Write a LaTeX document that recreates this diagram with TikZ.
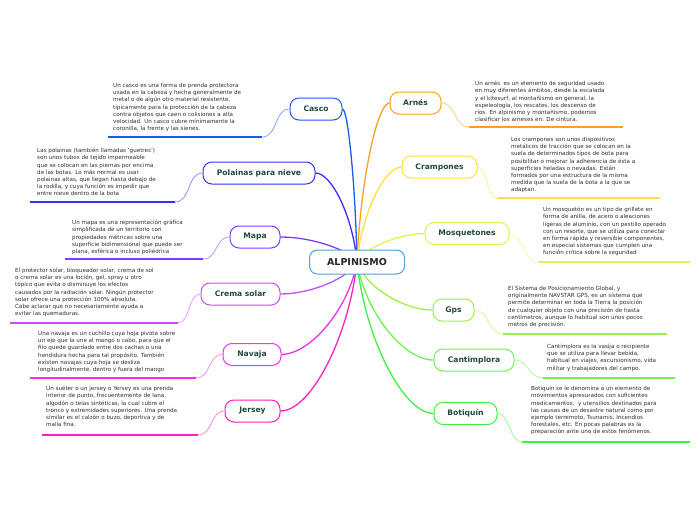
\documentclass[tikz,border=0pt]{standalone}
\usepackage{fontspec}
\setmainfont{DejaVu Sans}
\usetikzlibrary{backgrounds}
\definecolor{cCasco}{HTML}{1F5AF0}
\definecolor{cPolainas}{HTML}{3535E6}
\definecolor{cMapa}{HTML}{7F3CFF}
\definecolor{cCrema}{HTML}{C050FF}
\definecolor{cNavaja}{HTML}{F030F0}
\definecolor{cJersey}{HTML}{FF20C0}
\definecolor{cArnes}{HTML}{FFA020}
\definecolor{cCramp}{HTML}{FFE040}
\definecolor{cMosq}{HTML}{DDF550}
\definecolor{cGps}{HTML}{A0F040}
\definecolor{cCant}{HTML}{70F050}
\definecolor{cBotiq}{HTML}{40F040}
\definecolor{cRoot}{HTML}{4A9FE0}
\definecolor{labelgreen}{HTML}{1E4A3A}
\definecolor{desctext}{HTML}{2E2E2E}
\tikzset{
  rootbox/.style={draw=cRoot, fill=white, rounded corners=8pt, line width=1pt,
    minimum width=95pt, minimum height=24pt, font=\fontsize{9.5}{11}\selectfont\bfseries, text=black!85},
  branch/.style={draw=#1, fill=white, rounded corners=9pt, line width=1pt,
    minimum height=22pt, inner xsep=3pt, font=\fontsize{7.6}{9}\selectfont\bfseries, text=labelgreen},
  desc/.style={anchor=north west, inner sep=0pt, align=left,
    font=\fontsize{5.6}{7.2}\selectfont, text=desctext},
  mainline/.style={draw=#1, line width=1.3pt},
  thinline/.style={draw=#1!60, line width=0.7pt},
  underline/.style={draw=#1, line width=1.8pt}
}
\begin{document}
\begin{tikzpicture}[x=1pt,y=-1pt]
\useasboundingbox (0,0) rectangle (696,520);

% root
\node[rootbox] (root) at (357,262) {ALPINISMO};

% left branches
\node[branch=cCasco, minimum width=52pt] (casco) at (316,109) {Casco};
\node[branch=cPolainas, minimum width=112pt] (polainas) at (259,173) {Polainas para nieve};
\node[branch=cMapa, minimum width=50pt] (mapa) at (255,237) {Mapa};
\node[branch=cCrema, minimum width=79pt] (crema) at (240.5,294) {Crema solar};
\node[branch=cNavaja, minimum width=58pt] (navaja) at (252,354.5) {Navaja};
\node[branch=cJersey, minimum width=55pt] (jersey) at (252.5,411) {Jersey};

% right branches
\node[branch=cArnes, minimum width=51pt] (arnes) at (415.5,103) {Arnés};
\node[branch=cCramp, minimum width=75pt] (cramp) at (439.5,167) {Crampones};
\node[branch=cMosq, minimum width=84pt] (mosq) at (467,233.5) {Mosquetones};
\node[branch=cGps, minimum width=41pt] (gps) at (453.5,310) {Gps};
\node[branch=cCant, minimum width=80pt] (cant) at (474,360) {Cantimplora};
\node[branch=cBotiq, minimum width=63pt] (botiq) at (465.5,413.5) {Botiquín};

% descriptions
\node[desc] (tcasco) at (113,83) {Un casco es una forma de prenda protectora\\
usada en la cabeza y hecha generalmente de\\
metal o de algún otro material resistente,\\
típicamente para la protección de la cabeza\\
contra objetos que caen o colisiones a alta\\
velocidad. Un casco cubre mínimamente la\\
coronilla, la frente y las sienes.};

\node[desc] (tpolainas) at (37,148) {Las polainas (también llamadas 'guetres')\\
son unos tubos de tejido impermeable\\
que se colocan en las piernas por encima\\
de las botas. Lo más normal es usar\\
polainas altas, que llegan hasta debajo de\\
la rodilla, y cuya función es impedir que\\
entre nieve dentro de la bota};

\node[desc] (tmapa) at (72,220) {Un mapa es una representación gráfica\\
simplificada de un territorio con\\
propiedades métricas sobre una\\
superficie bidimensional que puede ser\\
plana, esférica o incluso poliédrica};

\node[desc] (tcrema) at (15,268) {El protector solar, bloqueador solar, crema de sol\\
o crema solar es una loción, gel, spray u otro\\
tópico que evita o disminuye los efectos\\
causados por la radiación solar. Ningún protector\\
solar ofrece una protección 100\% absoluta.\\
Cabe aclarar que no necesariamente ayuda a\\
evitar las quemaduras.};

\node[desc] (tnavaja) at (38,331) {Una navaja es un cuchillo cuya hoja pivota sobre\\
un eje que la une al mango o cabo, para que el\\
filo quede guardado entre dos cachas o una\\
hendidura hecha para tal propósito. También\\
existen navajas cuya hoja se desliza\\
longitudinalmente, dentro y fuera del mango};

\node[desc] (tjersey) at (46,386) {Un suéter o un jersey o Yersey es una prenda\\
interior de punto, frecuentemente de lana,\\
algodón o telas sintéticas, la cual cubre el\\
tronco y extremidades superiores. Una prenda\\
similar es el calzón o buzo, deportiva y de\\
malla fina.};

\node[desc] (tarnes) at (475,81) {Un arnés\ \ es un elemento de seguridad usado\\
en muy diferentes ámbitos, desde la escalada\\
y el kitesurf, al montañismo en general, la\\
espeleología, los rescates, los descenso de\\
ríos. En alpinismo y montañismo, podemos\\
clasificar los arneses en: De cintura.};

\node[desc] (tcramp) at (511,137) {Los crampones son unos dispositivos\\
metálicos de tracción que se colocan en la\\
suela de determinados tipos de bota para\\
posibilitar o mejorar la adherencia de ésta a\\
superficies heladas o nevadas. Están\\
formados por una estructura de la misma\\
medida que la suela de la bota a la que se\\
adaptan.};

\node[desc] (tmosq) at (543,207) {Un mosquetón es un tipo de grillete en\\
forma de anilla, de acero o aleaciones\\
ligeras de aluminio, con un pestillo operado\\
con un resorte, que se utiliza para conectar\\
en forma rápida y reversible componentes,\\
en especial sistemas que cumplen una\\
función crítica sobre la seguridad};

\node[desc] (tgps) at (508,286) {El Sistema de Posicionamiento Global, y\\
originalmente NAVSTAR GPS, es un sistema que\\
permite determinar en toda la Tierra la posición\\
de cualquier objeto con una precisión de hasta\\
centímetros, aunque lo habitual son unos pocos\\
metros de precisión.};

\node[desc] (tcant) at (547,344) {Cantimplora es la vasija o recipiente\\
que se utiliza para llevar bebida,\\
habitual en viajes, excursionismo, vida\\
militar y trabajadores del campo.};

\node[desc] (tbotiq) at (531,386) {Botiquín se le denomina a un elemento de\\
movimientos apresurados con suficientes\\
medicamentos,\ \ y utensilios destinados para\\
las causas de un desastre natural como por\\
ejemplo terremoto, Tsunamis, Incendios\\
forestales, etc. En pocas palabras es la\\
preparación ante uno de estos fenómenos.};

% underline end coordinates
\coordinate (uCascoA) at (262,137);   \coordinate (uCascoB) at (108,137);
\coordinate (uPolA) at (175,202);     \coordinate (uPolB) at (30,202);
\coordinate (uMapaA) at (203,259);    \coordinate (uMapaB) at (65,259);
\coordinate (uCremaA) at (178,323);   \coordinate (uCremaB) at (10,323);
\coordinate (uNavA) at (196,378);     \coordinate (uNavB) at (30,378);
\coordinate (uJerA) at (198,435);     \coordinate (uJerB) at (42,435);
\coordinate (uArnA) at (469,127);     \coordinate (uArnB) at (623,127);
\coordinate (uCraA) at (497,198);     \coordinate (uCraB) at (660,198);
\coordinate (uMosA) at (538,262);     \coordinate (uMosB) at (690,262);
\coordinate (uGpsA) at (503,334);     \coordinate (uGpsB) at (667,334);
\coordinate (uCanA) at (543,378);     \coordinate (uCanB) at (675,378);
\coordinate (uBotA) at (522,442);     \coordinate (uBotB) at (690,442);

\begin{pgfonlayer}{background}
% main connectors
\path[mainline=cCasco] (root.center) .. controls (355.5,185.5) and (348,109) .. (casco.east);
\path[mainline=cPolainas] (root.center) .. controls (353,217.5) and (332,173) .. (polainas.east);
\path[mainline=cMapa] (root.center) .. controls (349,249.5) and (311,237) .. (mapa.east);
\path[mainline=cCrema] (root.center) .. controls (349,278) and (311,294) .. (crema.east);
\path[mainline=cNavaja] (root.center) .. controls (349,308) and (311,354) .. (navaja.east);
\path[mainline=cJersey] (root.center) .. controls (349,336.5) and (311,411) .. (jersey.east);
\path[mainline=cArnes] (root.center) .. controls (360.3,182.5) and (377,103) .. (arnes.west);
\path[mainline=cCramp] (root.center) .. controls (361.5,214.5) and (384,167) .. (cramp.west);
\path[mainline=cMosq] (root.center) .. controls (364,248) and (398,234) .. (mosq.west);
\path[mainline=cGps] (root.center) .. controls (364.6,286) and (403,310) .. (gps.west);
\path[mainline=cCant] (root.center) .. controls (364.7,311) and (403,360) .. (cant.west);
\path[mainline=cBotiq] (root.center) .. controls (364.7,337.5) and (403,413) .. (botiq.west);
\end{pgfonlayer}

% thin connectors to descriptions
\path[thinline=cCasco] (casco.west) .. controls (274,109) and (278,137) .. (uCascoA);
\path[thinline=cPolainas] (polainas.west) .. controls (187,173) and (191,202) .. (uPolA);
\path[thinline=cMapa] (mapa.west) .. controls (215,237) and (218,259) .. (uMapaA);
\path[thinline=cCrema] (crema.west) .. controls (188,294) and (190,323) .. (uCremaA);
\path[thinline=cNavaja] (navaja.west) .. controls (208,354) and (211,378) .. (uNavA);
\path[thinline=cJersey] (jersey.west) .. controls (210,411) and (213,435) .. (uJerA);
\path[thinline=cArnes] (arnes.east) .. controls (456,103) and (454,127) .. (uArnA);
\path[thinline=cCramp] (cramp.east) .. controls (488,167) and (486,198) .. (uCraA);
\path[thinline=cMosq] (mosq.east) .. controls (523,234) and (524,262) .. (uMosA);
\path[thinline=cGps] (gps.east) .. controls (489,310) and (488,334) .. (uGpsA);
\path[thinline=cCant] (cant.east) .. controls (528,360) and (529,378) .. (uCanA);
\path[thinline=cBotiq] (botiq.east) .. controls (509,413) and (510,442) .. (uBotA);

% underlines
\path[underline=cCasco] (uCascoA) -- (uCascoB);
\path[underline=cPolainas] (uPolA) -- (uPolB);
\path[underline=cMapa] (uMapaA) -- (uMapaB);
\path[underline=cCrema] (uCremaA) -- (uCremaB);
\path[underline=cNavaja] (uNavA) -- (uNavB);
\path[underline=cJersey] (uJerA) -- (uJerB);
\path[underline=cArnes] (uArnA) -- (uArnB);
\path[underline=cCramp] (uCraA) -- (uCraB);
\path[underline=cMosq] (uMosA) -- (uMosB);
\path[underline=cGps] (uGpsA) -- (uGpsB);
\path[underline=cCant] (uCanA) -- (uCanB);
\path[underline=cBotiq] (uBotA) -- (uBotB);
\end{tikzpicture}
\end{document}
